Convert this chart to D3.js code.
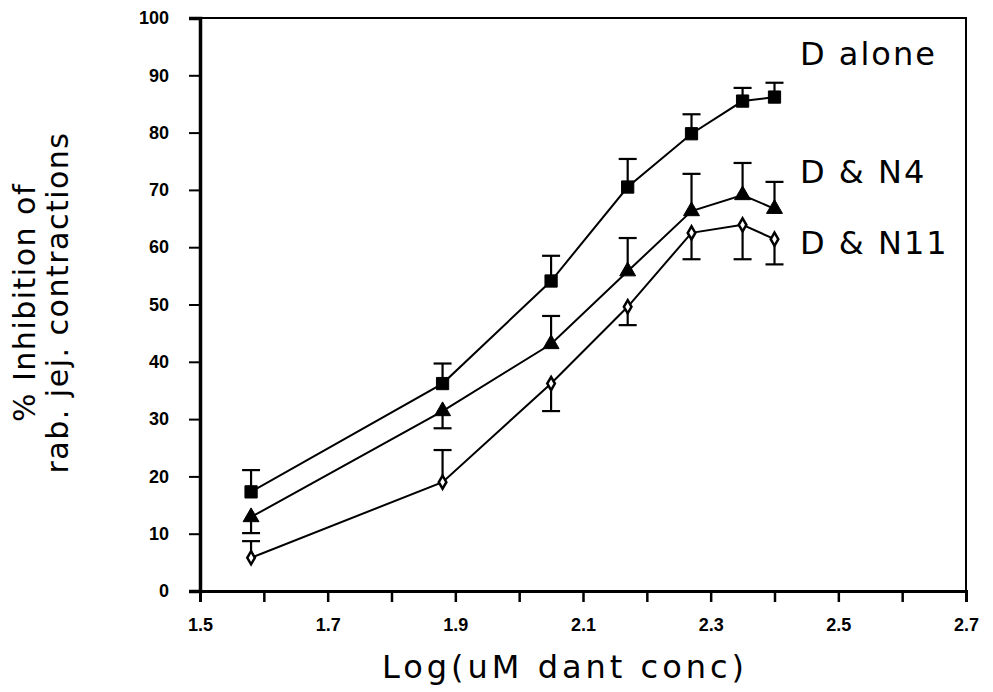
<!DOCTYPE html>
<html>
<head>
<meta charset="utf-8">
<script src="https://cdn.jsdelivr.net/npm/d3@7"></script>
<style>
  body { margin: 0; background: #fff; }
  text { fill: #000; }
</style>
</head>
<body>
<div id="chart"></div>
<script>
// x positions (log uM dantrolene)
const logConc = [1.58, 1.88, 2.05, 2.17, 2.27, 2.35, 2.40];

// mean % inhibition per series
const dAlone = [17.3, 36.2, 54.1, 70.5, 79.8, 85.5, 86.2];
const dN4 = [12.9, 31.4, 43.1, 55.8, 66.3, 69.1, 66.7];
const dN11 = [5.8, 19.0, 36.2, 49.6, 62.5, 63.9, 61.4];

// error bar sizes (one sided in the figure)
const dAloneErr = [3.8, 3.5, 4.4, 4.9, 3.4, 2.3, 2.5];
const dN4Err = [2.8, 3.0, 4.9, 5.8, 6.5, 5.6, 4.7];
const dN11Err = [2.9, 5.6, 4.8, 3.2, 4.6, 6.0, 4.4];
// +1 bar drawn upward, -1 downward
const dAloneDir = [1, 1, 1, 1, 1, 1, 1];
const dN4Dir = [-1, -1, 1, 1, 1, 1, 1];
const dN11Dir = [1, 1, -1, -1, -1, -1, -1];

const seriesNames = ["D alone", "D & N4", "D & N11"];
const xTicks = [1.5, 1.6, 1.7, 1.8, 1.9, 2.0, 2.1, 2.2, 2.3, 2.4, 2.5, 2.6, 2.7];
const xTickLabels = ["1.5", "", "1.7", "", "1.9", "", "2.1", "", "2.3", "", "2.5", "", "2.7"];
const yTicks = [0, 10, 20, 30, 40, 50, 60, 70, 80, 90, 100];

const margin = { top: 18, right: 27, bottom: 101, left: 200 },
  width = 993 - margin.left - margin.right,
  height = 692 - margin.top - margin.bottom;

const svg = d3.select("#chart")
  .append("svg")
  .attr("width", width + margin.left + margin.right)
  .attr("height", height + margin.top + margin.bottom)
  .append("g")
  .attr("transform", `translate(${margin.left},${margin.top})`);

const x = d3.scaleLinear()
  .domain([1.5, 2.7])
  .range([0, width]);

const y = d3.scaleLinear()
  .domain([0, 100])
  .range([height, 0]);

// frame
svg.append("rect")
  .attr("width", width)
  .attr("height", height)
  .attr("fill", "none")
  .attr("stroke", "#000")
  .attr("stroke-width", 2);

const tickFont = "Liberation Sans, Arial, sans-serif";

// X axis
const xAxis = svg.append("g")
  .attr("transform", `translate(0, ${height})`)
  .call(d3.axisBottom(x)
    .tickValues(xTicks)
    .tickSize(11)
    .tickPadding(16)
    .tickFormat((d, i) => xTickLabels[i]));
xAxis.select(".domain").attr("stroke-width", 3);
xAxis.selectAll(".tick line").attr("stroke-width", 2.5);
xAxis.selectAll("text")
  .attr("font-family", tickFont)
  .attr("font-weight", "bold")
  .attr("font-size", 18);

// Y axis
const yAxis = svg.append("g")
  .call(d3.axisLeft(y)
    .tickValues(yTicks)
    .tickSize(11)
    .tickPadding(20));
yAxis.select(".domain").attr("stroke-width", 3.5);
yAxis.selectAll(".tick line").attr("stroke-width", 2);
yAxis.selectAll("text")
  .attr("font-family", tickFont)
  .attr("font-weight", "bold")
  .attr("font-size", 18);

const series = [
  { name: seriesNames[0], vals: dAlone, err: dAloneErr, dir: dAloneDir, shape: "square" },
  { name: seriesNames[1], vals: dN4, err: dN4Err, dir: dN4Dir, shape: "triangle" },
  { name: seriesNames[2], vals: dN11, err: dN11Err, dir: dN11Dir, shape: "diamond" }
];

const line = d3.line()
  .x(d => x(d.x))
  .y(d => y(d.y));

series.forEach(s => {
  const pts = logConc.map((c, i) => ({ x: c, y: s.vals[i], e: s.err[i], dir: s.dir[i] }));

  // error bars
  const eb = svg.append("g");
  eb.selectAll("line.stem")
    .data(pts)
    .join("line")
    .attr("x1", d => x(d.x))
    .attr("x2", d => x(d.x))
    .attr("y1", d => y(d.y))
    .attr("y2", d => y(d.y + d.dir * d.e))
    .attr("stroke", "#000")
    .attr("stroke-width", 2.2);
  eb.selectAll("line.cap")
    .data(pts)
    .join("line")
    .attr("x1", d => x(d.x) - 9)
    .attr("x2", d => x(d.x) + 9)
    .attr("y1", d => y(d.y + d.dir * d.e))
    .attr("y2", d => y(d.y + d.dir * d.e))
    .attr("stroke", "#000")
    .attr("stroke-width", 2.2);

  // line
  svg.append("path")
    .datum(pts)
    .attr("fill", "none")
    .attr("stroke", "#000")
    .attr("stroke-width", 2)
    .attr("d", line);

  // markers
  const sym = s.shape === "square" ? d3.symbolSquare
    : s.shape === "triangle" ? d3.symbolTriangle : d3.symbolDiamond;
  const size = s.shape === "square" ? 150 : s.shape === "triangle" ? 110 : 50;
  svg.append("g").selectAll("path")
    .data(pts)
    .join("path")
    .attr("transform", d => `translate(${x(d.x)},${y(d.y)})`)
    .attr("d", d3.symbol().type(sym).size(size))
    .attr("fill", s.shape === "diamond" ? "#fff" : "#000")
    .attr("stroke", "#000")
    .attr("stroke-width", s.shape === "diamond" ? 2.5 : 1);
});

// series labels inside the plot
const labelFont = "Century Gothic, URW Gothic, DejaVu Sans, sans-serif";
const labelPos = [[600, 47], [600, 165], [600, 236]];
svg.selectAll(".series-label")
  .data(seriesNames)
  .join("text")
  .attr("class", "series-label")
  .attr("x", (d, i) => labelPos[i][0])
  .attr("y", (d, i) => labelPos[i][1])
  .attr("font-family", labelFont)
  .attr("font-size", 32)
  .attr("letter-spacing", 2)
  .text(d => d);

// axis titles
svg.append("text")
  .attr("x", width / 2 - 18)
  .attr("y", height + 87)
  .attr("text-anchor", "middle")
  .attr("font-family", labelFont)
  .attr("font-size", 32)
  .attr("letter-spacing", 4)
  .text("Log(uM dant conc)");

svg.append("text")
  .attr("transform", `translate(${-165},${height / 2 - 2}) rotate(-90)`)
  .attr("text-anchor", "middle")
  .attr("font-family", labelFont)
  .attr("font-size", 30)
  .attr("letter-spacing", 1.5)
  .text("% Inhibition of");

svg.append("text")
  .attr("transform", `translate(${-132},${height / 2 - 2}) rotate(-90)`)
  .attr("text-anchor", "middle")
  .attr("font-family", labelFont)
  .attr("font-size", 30)
  .attr("letter-spacing", 1.5)
  .text("rab. jej. contractions");
</script>
</body>
</html>
